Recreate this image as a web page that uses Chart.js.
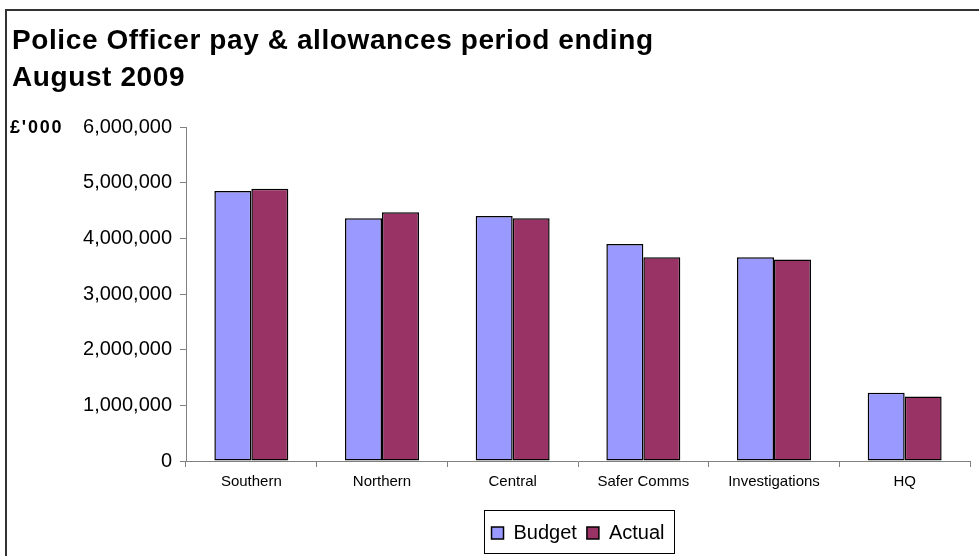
<!DOCTYPE html>
<html>
<head>
<meta charset="utf-8">
<script src="https://cdn.jsdelivr.net/npm/chart.js@4"></script>
<style>
  html, body { margin: 0; padding: 0; background: #fff; }
  #wrap { width: 979px; height: 556px; position: relative; }
</style>
</head>
<body>
<div id="wrap"><canvas id="c" width="979" height="556"></canvas></div>
<script>
const titleLines = ["Police Officer pay & allowances period ending", "August 2009"];
const unitLabel = "£'000";
const categories = ["Southern", "Northern", "Central", "Safer Comms", "Investigations", "HQ"];
const budget = [4850000, 4360000, 4400000, 3900000, 3660000, 1225000];
const actual = [4890000, 4470000, 4360000, 3660000, 3620000, 1160000];
const yMin = 0, yMax = 6000000, yStep = 1000000;

const FONT = "'Liberation Sans', Arial, sans-serif";

const decor = {
  id: 'decor',
  afterLayout(chart) {
    const lg = chart.legend, ca = chart.chartArea;
    if (lg && ca) {
      lg.left = ca.left;
      lg.right = ca.right;
      lg.width = ca.right - ca.left;
    }
  },
  afterDraw(chart) {
    const ctx = chart.ctx;
    ctx.save();
    // outer frame (top & left edges visible)
    ctx.strokeStyle = '#333';
    ctx.lineWidth = 2;
    ctx.beginPath();
    ctx.moveTo(979, 10);
    ctx.lineTo(6, 10);
    ctx.lineTo(6, 556);
    ctx.stroke();
    // title
    ctx.fillStyle = '#000';
    ctx.font = "bold 28px " + FONT;
    ctx.textBaseline = 'alphabetic';
    ctx.textAlign = 'left';
    try { ctx.letterSpacing = '0.6px'; } catch (e) {}
    ctx.fillText(titleLines[0], 12, 49);
    ctx.fillText(titleLines[1], 12, 86);
    // unit label
    ctx.font = "bold 18px " + FONT;
    try { ctx.letterSpacing = '1.8px'; } catch (e) {}
    ctx.textBaseline = 'middle';
    ctx.fillText(unitLabel, 10, 128);
    try { ctx.letterSpacing = '0px'; } catch (e) {}
    // legend frame
    const lg = chart.legend;
    if (lg && lg.legendHitBoxes && lg.legendHitBoxes.length) {
      let l = Infinity, r = -Infinity;
      lg.legendHitBoxes.forEach(h => { l = Math.min(l, h.left); r = Math.max(r, h.left + h.width); });
      ctx.strokeStyle = '#000';
      ctx.lineWidth = 1;
      const top = lg.top - 3, bot = lg.bottom;
      ctx.strokeRect(Math.round(l - 8) + 0.5, Math.round(top) + 0.5, Math.round(r - l + 17), Math.round(bot - top));
    }
    ctx.restore();
  }
};

new Chart(document.getElementById('c'), {
  type: 'bar',
  data: {
    labels: categories,
    datasets: [
      { label: 'Budget', data: budget, backgroundColor: '#9999FF', borderColor: '#000', borderWidth: 1.5, borderSkipped: false },
      { label: 'Actual', data: actual, backgroundColor: '#993366', borderColor: '#000', borderWidth: 1.5, borderSkipped: false }
    ]
  },
  options: {
    responsive: false,
    animation: false,
    devicePixelRatio: 1,
    layout: { padding: { left: 0, right: 9, top: 127, bottom: 3 } },
    datasets: { bar: { categoryPercentage: 0.566, barPercentage: 1.0 } },
    plugins: {
      title: { display: false },
      tooltip: { enabled: false },
      legend: {
        position: 'bottom',
        labels: {
          font: { family: FONT, size: 20 },
          color: '#000',
          boxWidth: 12,
          boxHeight: 12,
          padding: 10
        }
      }
    },
    scales: {
      x: {
        grid: { display: true, drawOnChartArea: false, offset: true, tickLength: 6, color: '#808080' },
        border: { display: true, color: '#808080', width: 1 },
        ticks: { font: { family: FONT, size: 15 }, color: '#000', padding: 6, maxRotation: 0, autoSkip: false },
        afterFit(s) { s.height = 52; }
      },
      y: {
        min: yMin, max: yMax,
        grid: { display: true, drawOnChartArea: false, tickLength: 6, color: '#808080' },
        border: { display: true, color: '#808080', width: 1 },
        ticks: {
          stepSize: yStep,
          font: { family: FONT, size: 20 },
          color: '#000',
          padding: 8,
          callback: v => v.toLocaleString('en-GB')
        },
        afterFit(s) { s.width = 186; }
      }
    }
  },
  plugins: [decor]
});
</script>
</body>
</html>
